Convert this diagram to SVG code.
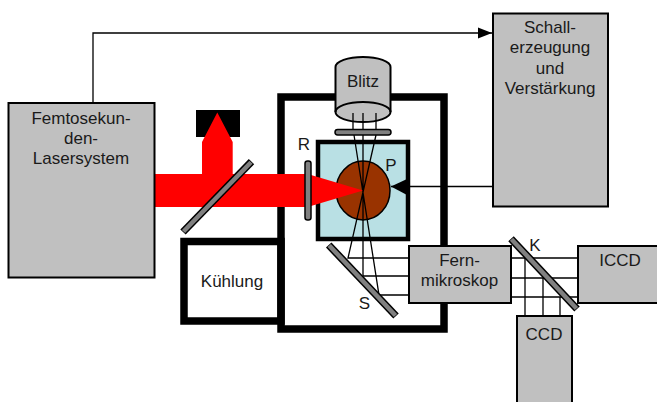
<svg xmlns="http://www.w3.org/2000/svg" width="657" height="402" viewBox="0 0 657 402">
<style>
text{font-family:"Liberation Sans",Arial,sans-serif;font-size:17px;fill:#1a1a1a;text-anchor:middle}
.box{fill:#c0c0c0;stroke:#000;stroke-width:2}
.ln{fill:none;stroke:#000;stroke-width:1.300}
.red{fill:#f00}
.mo{fill:none;stroke:#000;stroke-width:7.500}
.mi{fill:none;stroke:#808080;stroke-width:4.500}
</style>
<defs>
<marker id="ah" markerUnits="userSpaceOnUse" markerWidth="15" markerHeight="12" refX="14" refY="6" orient="auto"><path d="M0,0.500L14,6L0,11.500z" fill="#000"/></marker>
</defs>
<rect width="657" height="402" fill="#fff"/>
<g id="kuehlung"><rect x="184" y="241.500" width="97" height="79.500" fill="#fff" stroke="#000" stroke-width="7.500"/><text x="232" y="286.500">Kühlung</text></g>
<g id="kammer"><rect x="281" y="97" width="163" height="232" fill="none" stroke="#000" stroke-width="7.500"/></g>
<g id="probe"><rect x="318" y="142" width="90" height="97" fill="#b9e0e4" stroke="#000" stroke-width="4.500"/><ellipse cx="363" cy="190.500" rx="27" ry="29.500" fill="#993300" stroke="#000" stroke-width="1.500"/><text x="391" y="170.500">P</text></g>
<g id="blitz"><path d="M335.500,67A27.500,10 0 0 1 390.500,67V112A27.500,10 0 0 1 335.500,112Z" fill="#c0c0c0" stroke="#000" stroke-width="2"/><path d="M335.500,112A27.500,10 0 0 1 390.500,112" fill="none" stroke="#000" stroke-width="2"/><text x="363" y="87">Blitz</text><rect x="335" y="129.500" width="56" height="5.500" rx="2.700" fill="#808080" stroke="#000" stroke-width="1.500"/></g>
<g id="connectors">
<path class="ln" d="M353,113V130M363,113V130M376,113V130"/>
<path class="ln" d="M354,135L379,295H408M363,135V276H408M376,135L348,258H408"/>
<path class="ln" d="M511,258H578M511,278H578M511,297H578M525,258V316M543,278V316M560,297V316"/>
<path class="ln" d="M93,103V33H492" marker-end="url(#ah)"/>
<path d="M493,186.500H391" fill="none" stroke="#000" stroke-width="1.500"/>
<path d="M391,186.500L407,179V195z" fill="#000"/>
</g>
<g id="strahl"><rect x="196" y="110" width="44" height="27" fill="#000"/>
<path class="red" d="M155,174H202V142L217.300,112.500L232.700,142V174H305V207H155z"/>
<path class="red" d="M311,175L363,190.500L311,206z"/></g>
<g id="strahlteiler"><path class="mo" d="M183,232L251.500,161.700"/><path class="mi" d="M183.500,231.500L251,162.200"/></g>
<g id="r"><rect x="305" y="161" width="6" height="59" rx="2.500" fill="#808080" stroke="#000" stroke-width="1.500"/><text x="304" y="150">R</text></g>
<g id="s"><path class="mo" d="M328.700,245L396,316"/><path class="mi" d="M329.200,245.500L395.500,315.500"/><text x="364.500" y="308.500">S</text></g>
<g id="laser"><rect class="box" x="8.500" y="103" width="146" height="174.500"/><text x="81" y="123.500">Femtosekun-</text><text x="81" y="143.500">den-</text><text x="81" y="163.500">Lasersystem</text></g>
<g id="schall"><rect class="box" x="493" y="13.500" width="115" height="193"/><text x="550" y="32.500">Schall-</text><text x="550" y="53">erzeugung</text><text x="550" y="73.500">und</text><text x="550" y="94">Verstärkung</text></g>
<g id="fern"><rect class="box" x="409" y="246" width="102" height="57"/><text x="459.500" y="266">Fern-</text><text x="459.500" y="286">mikroskop</text></g>
<g id="iccd"><rect class="box" x="578" y="246" width="90" height="57"/><text x="620" y="265.500">ICCD</text></g>
<g id="ccd"><rect class="box" x="517" y="316" width="55" height="100"/><text x="544" y="340">CCD</text></g>
<g id="k"><path class="mo" d="M511,238.700L577,309"/><path class="mi" d="M511.500,239.200L576.500,308.500"/><text x="535" y="250.500">K</text></g>
</svg>
